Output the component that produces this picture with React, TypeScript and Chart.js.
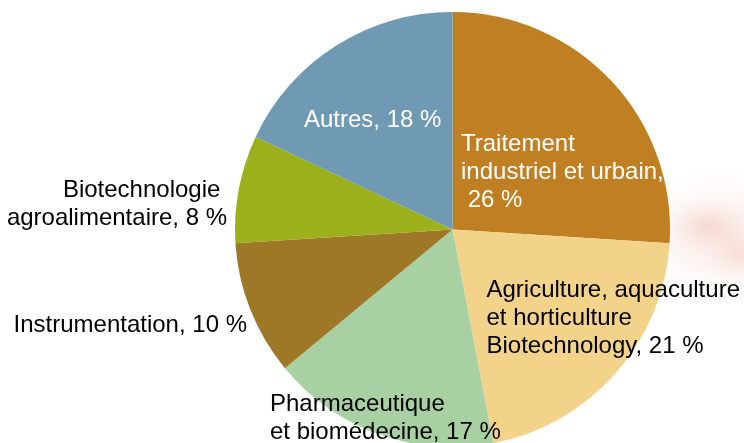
import React, { useEffect, useRef } from "react";
import { Chart, registerables } from "chart.js";

Chart.register(...registerables);

const categories = [
  "Traitement industriel et urbain",
  "Agriculture, aquaculture et horticulture Biotechnology",
  "Pharmaceutique et biomédecine",
  "Instrumentation",
  "Biotechnologie agroalimentaire",
  "Autres",
];
const shares = [26, 21, 17, 10, 8, 18];
const labelLines = [
  ["Traitement", "industriel et urbain,", " 26 %"],
  ["Agriculture, aquaculture", "et horticulture", "Biotechnology, 21 %"],
  ["Pharmaceutique", "et biomédecine, 17 %"],
  ["Instrumentation, 10 %"],
  ["Biotechnologie ", "agroalimentaire, 8 %"],
  ["Autres, 18 %"],
];

const sliceColors = ["#C07F22", "#F2D389", "#A8D0A2", "#9E7727", "#9BB01B", "#7099B4"];

// label layout: offset (px) from pie centre, alignment, colour
const labelLayout = [
  { dx: 8.5, dy: -78.5, align: "left", color: "#ffffff" },
  { dx: 34, dy: 67.5, align: "left", color: "#000000" },
  { dx: -182.5, dy: 181.5, align: "left", color: "#000000" },
  { dx: -205.5, dy: 102.2, align: "right", color: "#000000" },
  { dx: -225.5, dy: -32.8, align: "right", color: "#000000" },
  { dx: -148.5, dy: -102.2, align: "left", color: "#ffffff" },
];
const LINE_H = 28;

const backgroundPlugin = {
  id: "bgSmear",
  beforeDraw(chart: any) {
    const ctx = chart.ctx;
    ctx.save();
    ctx.fillStyle = "#ffffff";
    ctx.fillRect(0, 0, chart.width, chart.height);
    const blobs = [
      { x: 720, y: 235, rx: 110, ry: 80, c: "rgba(240,190,175,0.45)" },
      { x: 705, y: 225, rx: 60, ry: 35, c: "rgba(236,175,160,0.30)" },
      { x: 740, y: 255, rx: 45, ry: 40, c: "rgba(238,170,150,0.30)" },
    ];
    for (const b of blobs) {
      ctx.save();
      ctx.translate(b.x, b.y);
      ctx.scale(b.rx / b.ry, 1);
      const g = ctx.createRadialGradient(0, 0, 0, 0, 0, b.ry);
      g.addColorStop(0, b.c);
      g.addColorStop(1, "rgba(255,255,255,0)");
      ctx.fillStyle = g;
      ctx.beginPath();
      ctx.arc(0, 0, b.ry, 0, Math.PI * 2);
      ctx.fill();
      ctx.restore();
    }
    ctx.restore();
  },
};

const labelPlugin = {
  id: "sliceLabels",
  afterDraw(chart: any) {
    const meta = chart.getDatasetMeta(0);
    const arc = meta.data[0];
    if (!arc) return;
    const cx = arc.x;
    const cy = arc.y;
    const ctx = chart.ctx;
    ctx.save();
    ctx.font = '24px "Liberation Sans", Arial, sans-serif';
    ctx.textBaseline = "alphabetic";
    labelLines.forEach((lines, i) => {
      const l = labelLayout[i];
      ctx.fillStyle = l.color;
      ctx.textAlign = l.align;
      lines.forEach((t, j) => {
        ctx.fillText(t, cx + l.dx, cy + l.dy + j * LINE_H);
      });
    });
    ctx.restore();
  },
};

export default function App() {
  const ref = useRef<HTMLCanvasElement | null>(null);
  useEffect(() => {
    document.body.style.margin = "0";
    const chart = new Chart(ref.current as HTMLCanvasElement, {
      type: "pie",
      data: {
        labels: categories,
        datasets: [
          {
            data: shares,
            backgroundColor: sliceColors,
            borderWidth: 0,
          },
        ],
      },
      options: {
        responsive: false,
        animation: false,
        layout: { padding: { left: 235, right: 74, top: 12, bottom: 0 } },
        plugins: {
          legend: { display: false },
          tooltip: { enabled: false },
        },
      },
      plugins: [backgroundPlugin, labelPlugin],
    });
    return () => chart.destroy();
  }, []);
  return (
    <div style={{ position: "absolute", left: 0, top: 0, width: 744, height: 443, overflow: "hidden" }}>
      <canvas ref={ref} width={744} height={447} style={{ display: "block", width: 744, height: 447 }} />
    </div>
  );
}
